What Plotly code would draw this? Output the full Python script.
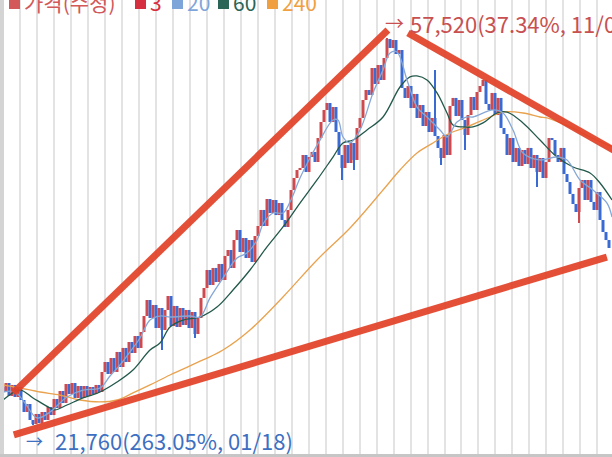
import plotly.graph_objects as go

# ---------------- data ----------------
closes = [24810, 25640, 24440, 25460, 24350, 25270, 24070, 22960, 23700, 22220,
          21850, 22780, 21950, 22960, 22220, 23420, 22680, 24160, 23330, 24900,
          23790, 25550, 24620, 25640, 24260, 25360, 24260, 25360, 24440, 25270,
          24620, 25460, 24810, 26660, 27580, 26470, 27950, 26660, 28510, 27120,
          28880, 27580, 29430, 28410, 29980, 28880, 30350, 31830, 33310, 31650,
          32850, 30720, 32570, 30540, 32390, 33680, 30910, 32760, 30820, 32570,
          31000, 32390, 30720, 32200, 30170, 31650, 33500, 34420, 36080, 34700,
          36270, 34970, 36640, 35160, 37380, 37930, 36270, 38850, 39780, 37750,
          39040, 37190, 38850, 36820, 39220, 40150, 41630, 40150, 42640, 41350,
          42550, 41160, 42270, 40700, 40060, 41630, 43470, 44580, 45320, 45510,
          46710, 45140, 46520, 46990, 46060, 48280, 49760, 50870, 51510, 49760,
          51140, 48830, 46710, 45510, 47630, 45970, 47820, 46250, 49200, 50130,
          51790, 52710, 52250, 54750, 53270, 55020, 53640, 55670, 57430, 56600,
          57330, 56040, 56410, 52900, 51980, 53080, 51050, 52350, 50130, 51330,
          49390, 50680, 48830, 50130, 48460, 47360, 46430, 48560, 46710, 51240,
          51980, 50310, 51790, 49940, 48560, 50400, 52070, 50870, 52530, 53080,
          53640, 51420, 50870, 52440, 50400, 51980, 49200, 48650, 46710, 48280,
          46060, 47360, 45690, 47170, 45880, 47360, 45510, 46710, 45140, 46430,
          44580, 46060, 48280, 48090, 46710, 46060, 47360, 44950, 44210, 43110,
          42180, 41440, 43660, 44400, 42550, 44400, 42370, 41630, 43290, 40700,
          39590, 38850, 38120]
first_open = 25300
wick_idx = [10, 53, 64, 113, 117, 128, 144, 146, 154, 178, 192]
wick_price = [21760, 28690, 29800, 44400, 45320, 57520, 54560, 45780, 47170, 43750, 40430]

ma20_x = [0, 4, 7.33, 11.33, 15.67, 21.33, 26.67, 32.33, 35.67, 39, 42.33, 45.67, 49,
          52.33, 55.67, 62.33, 65.67, 69, 73.33, 78, 81.33, 84.67, 86.67, 90, 93.33,
          95.67, 99, 102.33, 105.67, 110, 111.67, 113.33, 115.67, 119, 123.33, 126.67,
          129, 131.33, 134.67, 138, 141.33, 145.67, 148, 151.33, 154.67, 156.67,
          163.33, 166.67, 170, 173.33, 179, 184.67, 188, 192.33, 196.67, 201.33, 203]
ma20_y = [24810, 24810, 23790, 22410, 22960, 24350, 24990, 25180, 26290, 27300, 28510,
          29800, 31460, 31830, 31740, 31830, 31740, 33500, 35340, 37190, 37650, 38850,
          40330, 41350, 41350, 42370, 44580, 46430, 48090, 49940, 49940, 48370, 47820,
          49020, 52440, 54560, 56130, 56230, 53640, 51140, 50220, 49020, 48370, 49760,
          50220, 50220, 50870, 50590, 49020, 46890, 46250, 46520, 46250, 44400, 43470,
          42270, 40980]

ma60_x = [0, 5.67, 10, 15.67, 17.33, 21.33, 26.67, 32.33, 38, 43.33, 49, 52.33, 55.67,
          60, 65.67, 71.33, 76.67, 82.33, 88, 93.33, 99, 104.67, 110, 113.33, 116.67,
          121.33, 126.67, 132.33, 135.67, 138, 141.33, 144.67, 148, 150, 153.33, 156.67,
          160, 164.67, 168, 173.33, 179, 184.67, 190, 195.67, 199, 203]
ma60_y = [24070, 24990, 24260, 23330, 23150, 23610, 24260, 24810, 25730, 26840, 28690,
          29340, 30820, 31460, 31740, 32660, 34230, 36080, 38210, 40060, 42270, 44400,
          46520, 47820, 48090, 49020, 50220, 52990, 53920, 54010, 53640, 52440, 50590,
          49480, 49300, 49300, 49670, 50590, 50680, 49670, 48090, 46520, 45600, 45050,
          44120, 42550]

ma240_x = [0, 5.67, 12.33, 19, 25.67, 32.33, 38, 43.33, 49, 55.67, 66.67, 73.33, 82.33,
           93.33, 104.67, 116, 126.67, 132.33, 138, 143.33, 149, 154.67, 162.33, 166.67,
           173.33, 179, 181.33, 189, 195.67, 203]
ma240_y = [25460, 25180, 24810, 24530, 24070, 23890, 24070, 24720, 25460, 26380, 27770,
           28690, 30540, 33590, 37010, 40060, 43470, 45320, 46890, 47820, 48740, 49300,
           50220, 50680, 50590, 50220, 50130, 49300, 48370, 47450]

trend_up_x, trend_up_y = [3.4, 128.3], [24720, 58260]
trend_low_x, trend_low_y = [3.6, 201.3], [20840, 37280]
trend_down_x, trend_down_y = [135, 204], [57980, 47080]

legend_labels = ["가격(수정)", "3", "20", "60", "240"]
high_label = "57,520(37.34%, 11/04)"
low_label = "21,760(263.05%, 01/18)"

# ---------------- build OHLC ----------------
idx = list(range(len(closes)))
opens = [first_open] + closes[:-1]
highs = [max(o, c) for o, c in zip(opens, closes)]
lows = [min(o, c) for o, c in zip(opens, closes)]
for i, p in zip(wick_idx, wick_price):
    if p > highs[i]:
        highs[i] = p
    else:
        lows[i] = p

RED = "#cf4a4f"
BLUE = "#3a6bd2"
up = [c >= o for o, c in zip(opens, closes)]
colors = [RED if u else BLUE for u in up]
body_base = [min(o, c) for o, c in zip(opens, closes)]
body_len = [max(abs(c - o), 90) for o, c in zip(opens, closes)]

fig = go.Figure()
# wicks
fig.add_trace(go.Bar(x=idx, base=lows, y=[h - l for h, l in zip(highs, lows)],
                     width=0.4, marker=dict(color=colors, line=dict(width=0)),
                     hoverinfo="skip"))
# bodies
fig.add_trace(go.Bar(x=idx, base=body_base, y=body_len, width=1.0,
                     marker=dict(color=colors, line=dict(width=0)), hoverinfo="skip"))

fig.add_trace(go.Scatter(x=ma240_x, y=ma240_y, mode="lines",
                         line=dict(color="#e9a24e", width=1.3, shape="spline")))
fig.add_trace(go.Scatter(x=ma60_x, y=ma60_y, mode="lines",
                         line=dict(color="#22594b", width=1.3, shape="spline")))
fig.add_trace(go.Scatter(x=ma20_x, y=ma20_y, mode="lines",
                         line=dict(color="#86a7d6", width=1.3, shape="spline")))

TREND = "rgba(226,64,38,0.92)"
for tx, ty in [(trend_up_x, trend_up_y), (trend_low_x, trend_low_y), (trend_down_x, trend_down_y)]:
    fig.add_trace(go.Scatter(x=tx, y=ty, mode="lines", line=dict(color=TREND, width=7)))

W, H = 612, 457
def px(x):
    return x / W
def py(y):
    return 1 - y / H

shapes = [
    dict(type="rect", xref="paper", yref="paper", x0=0, x1=px(4), y0=0, y1=1,
         fillcolor="#d4d4d4", line=dict(width=0), layer="above"),
    dict(type="rect", xref="paper", yref="paper", x0=0, x1=1, y0=0, y1=py(454),
         fillcolor="#c6c6c6", line=dict(width=0), layer="above"),
]

leg_colors = ["#d2585a", "#d62f40", "#7ea5da", "#2a6557", "#f0a040"]
leg_sq = [9, 135, 172, 218, 267]
annotations = []
FONT = "Noto Sans CJK KR"
for lab, col, sx in zip(legend_labels, leg_colors, leg_sq):
    shapes.append(dict(type="rect", xref="paper", yref="paper", x0=px(sx), x1=px(sx + 11),
                       y0=py(9), y1=py(-4), fillcolor=col, line=dict(width=0), layer="above"))
    annotations.append(dict(xref="paper", yref="paper", x=px(sx + 13), y=py(2),
                            xanchor="left", yanchor="middle", showarrow=False,
                            text=lab, font=dict(family=FONT, size=21, color=col)))

annotations += [
    dict(xref="paper", yref="paper", x=px(383), y=py(22), xanchor="left", yanchor="middle",
         showarrow=False, text="→", font=dict(family=FONT, size=19, color="#c85050")),
    dict(xref="paper", yref="paper", x=px(408), y=py(23), xanchor="left", yanchor="middle",
         showarrow=False, text=high_label, font=dict(family=FONT, size=22, color="#c85050")),
    dict(xref="paper", yref="paper", x=px(24), y=py(440), xanchor="left", yanchor="middle",
         showarrow=False, text="→", font=dict(family=FONT, size=17, color="#3d6fc2")),
    dict(xref="paper", yref="paper", x=px(53), y=py(440), xanchor="left", yanchor="middle",
         showarrow=False, text=low_label, font=dict(family=FONT, size=22, color="#3d6fc2")),
]

fig.update_layout(
    width=W, height=H, margin=dict(l=0, r=0, t=0, b=0, pad=0),
    paper_bgcolor="white", plot_bgcolor="white", showlegend=False,
    barmode="overlay",
    xaxis=dict(range=[-1, 203], showgrid=True, gridcolor="#e3e3e3", gridwidth=2,
               tick0=5.667, dtick=5.66, showticklabels=False, zeroline=False,
               fixedrange=True),
    yaxis=dict(range=[18803, 61030], showgrid=False, showticklabels=False,
               zeroline=False, fixedrange=True),
    shapes=shapes, annotations=annotations,
)

fig.write_html("out.html")
